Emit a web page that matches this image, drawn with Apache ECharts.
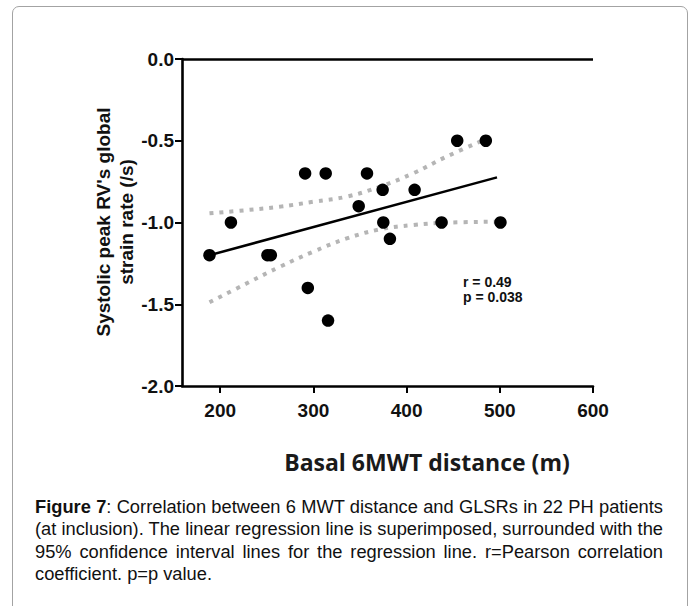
<!DOCTYPE html>
<html>
<head>
<meta charset="utf-8">
<script src="https://cdn.jsdelivr.net/npm/echarts@6/dist/echarts.min.js"></script>
<style>
html,body{margin:0;padding:0;background:#fff;width:694px;height:606px;overflow:hidden;}
#frame{position:absolute;left:12px;top:6px;width:676px;height:640px;border:1px solid #a3a3a3;border-radius:7px;box-sizing:border-box;}
#chart{position:absolute;left:0;top:0;width:694px;height:606px;}
#caption{position:absolute;left:35px;top:496px;width:628px;font-family:"Liberation Sans",Arial,sans-serif;font-size:18.3px;line-height:22.4px;color:#111;}
#caption .l{text-align:justify;text-align-last:justify;white-space:nowrap;}
#caption .last{text-align:left;text-align-last:left;}
</style>
</head>
<body>
<div id="frame"></div>
<div id="chart"></div>
<div id="caption">
<div class="l"><b>Figure 7</b>: Correlation between 6 MWT distance and GLSRs in 22 PH patients</div>
<div class="l">(at inclusion). The linear regression line is superimposed, surrounded with the</div>
<div class="l">95% confidence interval lines for the regression line. r=Pearson correlation</div>
<div class="l last">coefficient. p=p value.</div>
</div>
<script>
// ---- data ----
const pointX = [188.5, 211.5, 250.7, 254.3, 291.1, 313.2, 294.0, 315.7, 348.6, 357.5, 374.3, 375.0, 382.1, 408.6, 437.5, 454.3, 485.0, 500.7];
const pointY = [-1.2, -1.0, -1.2, -1.2, -0.7, -0.7, -1.4, -1.6, -0.9, -0.7, -0.8, -1.0, -1.1, -0.8, -1.0, -0.5, -0.5, -1.0];
const regX = [188.5, 497];
const regY = [-1.20, -0.724];
const upperX = [188.5, 228.6, 264.3, 300, 335.8, 371.4, 407.1, 442.9, 495];
const upperY = [-0.944, -0.924, -0.903, -0.873, -0.842, -0.781, -0.699, -0.597, -0.465];
const lowerX = [188.5, 228.6, 264.3, 300, 335.8, 371.4, 407.1, 442.9, 500];
const lowerY = [-1.488, -1.372, -1.270, -1.178, -1.097, -1.042, -1.015, -1.001, -0.995];
const xTicks = [200, 300, 400, 500, 600];
const xRange = [159, 600];
const yRange = [-2, 0];
const yStep = 0.5;
const yTitle = "Systolic peak RV's global\nstrain rate (/s)";
const xTitle = "Basal 6MWT distance (m)";
const statText = ["r = 0.49", "p = 0.038"];

const zip = (a, b) => a.map((v, i) => [v, b[i]]);
const chart = echarts.init(document.getElementById('chart'), null, {renderer: 'svg'});
const lblFont = {fontFamily: '"Liberation Sans", Arial, sans-serif', fontWeight: 'bold', fontSize: 19, color: '#111'};
const ciStyle = {color: '#b5b5b5', width: 4, type: [4, 6], cap: 'butt'};

chart.setOption({
  animation: false,
  grid: {left: 182, right: 101, top: 59, bottom: 220, containLabel: false, outerBoundsMode: 'none'},
  xAxis: {
    type: 'value', min: xRange[0], max: xRange[1],
    axisLine: {show: true, onZero: false, lineStyle: {color: '#000', width: 2.6}},
    axisTick: {show: true, customValues: xTicks, length: 7, lineStyle: {color: '#000', width: 2}},
    axisLabel: Object.assign({customValues: xTicks, margin: 15}, lblFont),
    splitLine: {show: false}
  },
  yAxis: {
    type: 'value', min: yRange[0], max: yRange[1], interval: yStep,
    axisLine: {show: true, onZero: false, lineStyle: {color: '#000', width: 2.6}},
    axisTick: {show: true, length: 7, lineStyle: {color: '#000', width: 2}},
    axisLabel: Object.assign({margin: 8, formatter: v => v.toFixed(1)}, lblFont),
    splitLine: {show: false}
  },
  graphic: [
    {type: 'text', x: 115, y: 222, rotation: Math.PI / 2,
     style: {text: yTitle, fontFamily: '"Liberation Sans", Arial, sans-serif', fontWeight: 'bold', fontSize: 19, lineHeight: 23, fill: '#111', align: 'center', verticalAlign: 'middle'}},
    {type: 'text', x: 427, y: 462,
     style: {text: xTitle, fontFamily: '"Open Sans", sans-serif', fontWeight: 'bold', fontSize: 23, fill: '#1a1a1a', align: 'center', verticalAlign: 'middle'}},
    {type: 'text', x: 463, y: 282,
     style: {text: statText[0], fontFamily: '"Liberation Sans", Arial, sans-serif', fontWeight: 'bold', fontSize: 14, fill: '#111', align: 'left', verticalAlign: 'middle'}},
    {type: 'text', x: 463, y: 297,
     style: {text: statText[1], fontFamily: '"Liberation Sans", Arial, sans-serif', fontWeight: 'bold', fontSize: 14, fill: '#111', align: 'left', verticalAlign: 'middle'}}
  ],
  series: [
    {type: 'line', data: zip(upperX, upperY), smooth: 0.4, showSymbol: false, lineStyle: ciStyle, z: 2, silent: true},
    {type: 'line', data: zip(lowerX, lowerY), smooth: 0.4, showSymbol: false, lineStyle: ciStyle, z: 2, silent: true},
    {type: 'line', data: zip(regX, regY), showSymbol: false, lineStyle: {color: '#000', width: 2.5}, z: 3, silent: true,
     markLine: {symbol: 'none', silent: true, label: {show: false}, lineStyle: {color: '#000', width: 2.6, type: 'solid'}, data: [{yAxis: 0}]}},
    {type: 'scatter', data: zip(pointX, pointY), symbol: 'circle', symbolSize: 12.5, itemStyle: {color: '#000', opacity: 1}, z: 5}
  ]
});
</script>
</body>
</html>
